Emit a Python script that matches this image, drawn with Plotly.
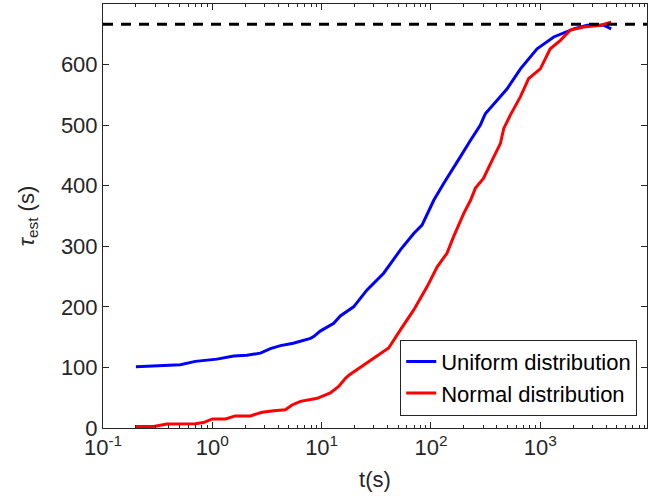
import math
import plotly.graph_objects as go

# ---- data ----
t_uniform = [0.2, 0.51, 0.70, 1.1, 1.57, 2.07, 2.75, 3.4, 4.2, 5.5, 7.9, 8.45, 9.7, 12.9, 14.8,
             17.7, 19.6, 26, 36.9, 52.5, 69.5, 82.8, 106, 131, 140, 186, 230, 283, 302, 315,
             403, 497, 658, 934, 1326, 2020, 2680, 3800, 4450]
tau_uniform = [101, 104.5, 110, 113.7, 119, 120, 123.6, 131, 136, 140, 148, 151, 160, 173, 185,
               195, 200, 228, 255.5, 294, 321, 335, 376, 404, 412, 448, 475, 500, 512, 519,
               541, 560, 593, 626, 645.6, 659, 665, 665, 659]

t_normal = [0.2, 0.29, 0.385, 0.70, 0.83, 1.0, 1.32, 1.62, 2.23, 2.85, 3.64, 4.65, 5.36, 6.4,
            9.1, 12, 14.3, 16.5, 18, 27.9, 41, 52.5, 69.5, 92, 114, 140, 161, 199, 230, 255, 302,
            362, 432, 463, 532, 658, 783, 1000, 1233, 1526, 1884, 2497, 3550, 4450]
tau_normal = [2.6, 2.6, 6.6, 7, 9, 15, 15, 20, 20, 26, 28.5, 30, 38, 44,
              49, 58, 68.6, 82, 88, 112, 132, 162, 195, 233, 266, 288.5, 316, 354, 376, 396, 412,
              442, 470, 494.6, 516.5, 547, 577, 593, 626, 640, 657, 662, 665, 670]

tau_limit = 666.67
x_limits = [0.1, 9460]
y_limits = [0, 700]

major_vals = [0.1, 1, 10, 100, 1000]
major_text = ["10<sup>-1</sup>", "10<sup>0</sup>", "10<sup>1</sup>", "10<sup>2</sup>", "10<sup>3</sup>"]
minor_vals = [m * 10 ** e for e in range(-1, 4) for m in range(2, 10)]

y_ticks = [0, 100, 200, 300, 400, 500, 600]

# ---- figure ----
ink = "#262626"
font_family = "Liberation Sans, Arial, sans-serif"

fig = go.Figure()
fig.add_trace(go.Scatter(x=t_uniform, y=tau_uniform, mode="lines", name="Uniform distribution",
                         line=dict(color="#0000ff", width=3)))
fig.add_trace(go.Scatter(x=t_normal, y=tau_normal, mode="lines", name="Normal distribution",
                         line=dict(color="#ff0000", width=3)))
fig.add_trace(go.Scatter(x=x_limits, y=[tau_limit, tau_limit], mode="lines", showlegend=False,
                         line=dict(color="black", width=3, dash="10px,8px")))
# invisible trace to carry the minor-tick axis
fig.add_trace(go.Scatter(x=x_limits, y=[tau_limit, tau_limit], mode="lines", showlegend=False,
                         xaxis="x2", line=dict(color="rgba(0,0,0,0)", width=0), hoverinfo="skip"))

xr = [math.log10(x_limits[0]), math.log10(x_limits[1])]

fig.update_layout(
    width=665, height=500,
    margin=dict(l=103, r=18, t=4, b=72),
    paper_bgcolor="white", plot_bgcolor="white",
    font=dict(family=font_family, size=22, color=ink),
    showlegend=True,
    legend=dict(x=0.982, y=0.029, xanchor="right", yanchor="bottom",
                bgcolor="white", bordercolor=ink, borderwidth=1,
                font=dict(size=22, color="black"), tracegroupgap=0,
                itemwidth=30),
    xaxis=dict(type="log", range=xr, tickvals=major_vals, ticktext=major_text,
               ticks="inside", ticklen=6, tickcolor=ink, showline=True, linecolor=ink,
               linewidth=1, mirror="ticks", showgrid=False, zeroline=False, automargin=False,
               tickfont=dict(size=22, color=ink),
               title=dict(text="t(s)", font=dict(size=22, color=ink), standoff=12)),
    xaxis2=dict(type="log", range=xr, overlaying="x", tickvals=minor_vals,
                showticklabels=False, ticks="inside", ticklen=3, tickcolor=ink, automargin=False,
                mirror="ticks", showline=False, showgrid=False, zeroline=False, side="bottom"),
    yaxis=dict(range=y_limits, tickvals=y_ticks, ticks="inside", ticklen=6, tickcolor=ink,
               showline=True, linecolor=ink, linewidth=1, mirror="ticks", showgrid=False,
               zeroline=False, automargin=False, tickfont=dict(size=22, color=ink),
               title=dict(text="<i>τ</i><sub>est</sub> (s)", font=dict(size=22, color=ink),
                          standoff=20)),
)

fig.write_html("out.html", config={"displayModeBar": False},
               post_script="document.body.style.margin='0px';document.body.style.padding='0px';")
